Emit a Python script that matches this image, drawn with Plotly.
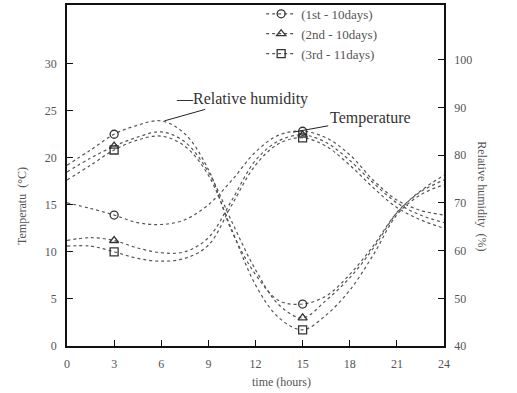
import plotly.graph_objects as go

hours = [0, 1.5, 3, 4.5, 6, 7.5, 9, 10.5, 12, 13.5, 15, 16.5, 18, 19.5, 21, 22.5, 24]
periods = ["(1st - 10days)", "(2nd - 10days)", "(3rd - 11days)"]
symbols = ["circle-open", "triangle-up-open", "square-open"]

temp_1st = [15.2, 14.6, 13.9, 13.1, 12.9, 13.4, 15.0, 17.6, 20.6, 22.4, 22.8, 22.1, 20.3, 17.6, 15.5, 14.4, 13.9]
temp_2nd = [11.2, 11.5, 11.2, 10.4, 9.9, 10.0, 11.5, 15.5, 19.7, 21.8, 22.4, 21.6, 19.7, 17.3, 15.2, 13.9, 13.1]
temp_3rd = [10.6, 10.6, 10.0, 9.3, 9.0, 9.3, 10.7, 15.0, 19.2, 21.5, 22.1, 21.2, 19.2, 16.8, 14.7, 13.4, 12.5]

rh_1st = [77.9, 81.1, 84.4, 86.3, 87.2, 84.5, 77.0, 64.0, 55.0, 49.5, 48.8, 50.5, 55.0, 61.0, 68.0, 72.5, 75.8]
rh_2nd = [76.5, 79.4, 81.9, 83.8, 84.9, 82.8, 76.5, 66.0, 56.0, 48.6, 45.9, 49.6, 54.3, 60.5, 67.9, 72.3, 74.8]
rh_3rd = [74.8, 77.9, 81.1, 83.2, 84.0, 81.9, 75.8, 64.3, 52.8, 45.9, 43.4, 46.5, 51.7, 59.1, 67.5, 71.7, 73.8]

marker_hours = [3, 15]
x_ticks = [0, 3, 6, 9, 12, 15, 18, 21, 24]
temp_ticks = [0, 5, 10, 15, 20, 25, 30]
rh_ticks = [40, 50, 60, 70, 80, 90, 100]

SERIF = "Liberation Serif, DejaVu Serif, serif"
INK = "#555555"
marker_idx = [hours.index(h) for h in marker_hours]

fig = go.Figure()

temps = [temp_1st, temp_2nd, temp_3rd]
rhs = [rh_1st, rh_2nd, rh_3rd]
for i in range(3):
    fig.add_trace(go.Scatter(
        x=hours, y=temps[i], mode="lines+markers", name=periods[i],
        legendgroup=periods[i], showlegend=True, line_shape="spline",
        line=dict(color=INK, width=1.2, dash="dot"),
        marker=dict(symbol=symbols[i], size=8, color="#333", line=dict(width=1.3)),
        selectedpoints=marker_idx,
        selected=dict(marker=dict(opacity=1)),
        unselected=dict(marker=dict(opacity=0)),
        yaxis="y"))
for i in range(3):
    fig.add_trace(go.Scatter(
        x=hours, y=rhs[i], mode="lines+markers", name=periods[i],
        legendgroup=periods[i], showlegend=False, line_shape="spline",
        line=dict(color=INK, width=1.2, dash="dot"),
        marker=dict(symbol=symbols[i], size=8, color="#333", line=dict(width=1.3)),
        selectedpoints=marker_idx,
        selected=dict(marker=dict(opacity=1)),
        unselected=dict(marker=dict(opacity=0)),
        yaxis="y2"))

axis_common = dict(showline=True, linecolor="#111", linewidth=1.6, ticks="inside",
                   ticklen=6, tickcolor="#111", showgrid=False, zeroline=False,
                   automargin=False,
                   tickfont=dict(family=SERIF, size=12, color=INK))

fig.update_layout(
    width=517, height=393,
    margin=dict(l=67, r=73, t=5, b=47, pad=0, autoexpand=False),
    paper_bgcolor="white", plot_bgcolor="white",
    xaxis=dict(range=[0, 24], tickvals=x_ticks, mirror=True, ticklabelstandoff=6, **axis_common),
    yaxis=dict(range=[0, 36.2], tickvals=temp_ticks, ticklabelstandoff=6, **axis_common),
    yaxis2=dict(range=[40, 111.5], tickvals=rh_ticks, overlaying="y", side="right",
                ticklabelstandoff=6, **axis_common),
    legend=dict(x=0.515, y=1.018, xanchor="left", yanchor="top", bgcolor="rgba(0,0,0,0)",
                font=dict(family=SERIF, size=13, color=INK), itemwidth=30,
                tracegroupgap=0),
    showlegend=True,
    annotations=[
        dict(text="time (hours)", xref="paper", yref="paper", x=0.57, y=-0.105,
             xanchor="center", yanchor="middle", showarrow=False,
             font=dict(family=SERIF, size=12, color=INK)),
        dict(text="Temperatu  (°C)", xref="paper", yref="paper", x=-0.12, y=0.41,
             xanchor="center", yanchor="middle", textangle=-90, showarrow=False,
             font=dict(family=SERIF, size=12, color=INK)),
        dict(text="Relative humidity  (%)", xref="paper", yref="paper", x=1.1, y=0.44,
             xanchor="center", yanchor="middle", textangle=90, showarrow=False,
             font=dict(family=SERIF, size=12, color=INK)),
        dict(text="—Relative humidity", x=6.2, y=87.2, xref="x", yref="y2",
             ax=78, ay=-22, showarrow=True, arrowhead=0, arrowwidth=1, arrowcolor="#222",
             font=dict(family=SERIF, size=16, color="#333")),
        dict(text="Temperature", x=14.4, y=22.7, xref="x", yref="y",
             ax=77, ay=-14, showarrow=True, arrowhead=0, arrowwidth=1, arrowcolor="#222",
             font=dict(family=SERIF, size=16, color="#333")),
    ],
)

fig.write_html("out.html", config={"displayModeBar": False},
               post_script="document.body.style.margin='0';document.body.style.overflow='hidden';")
